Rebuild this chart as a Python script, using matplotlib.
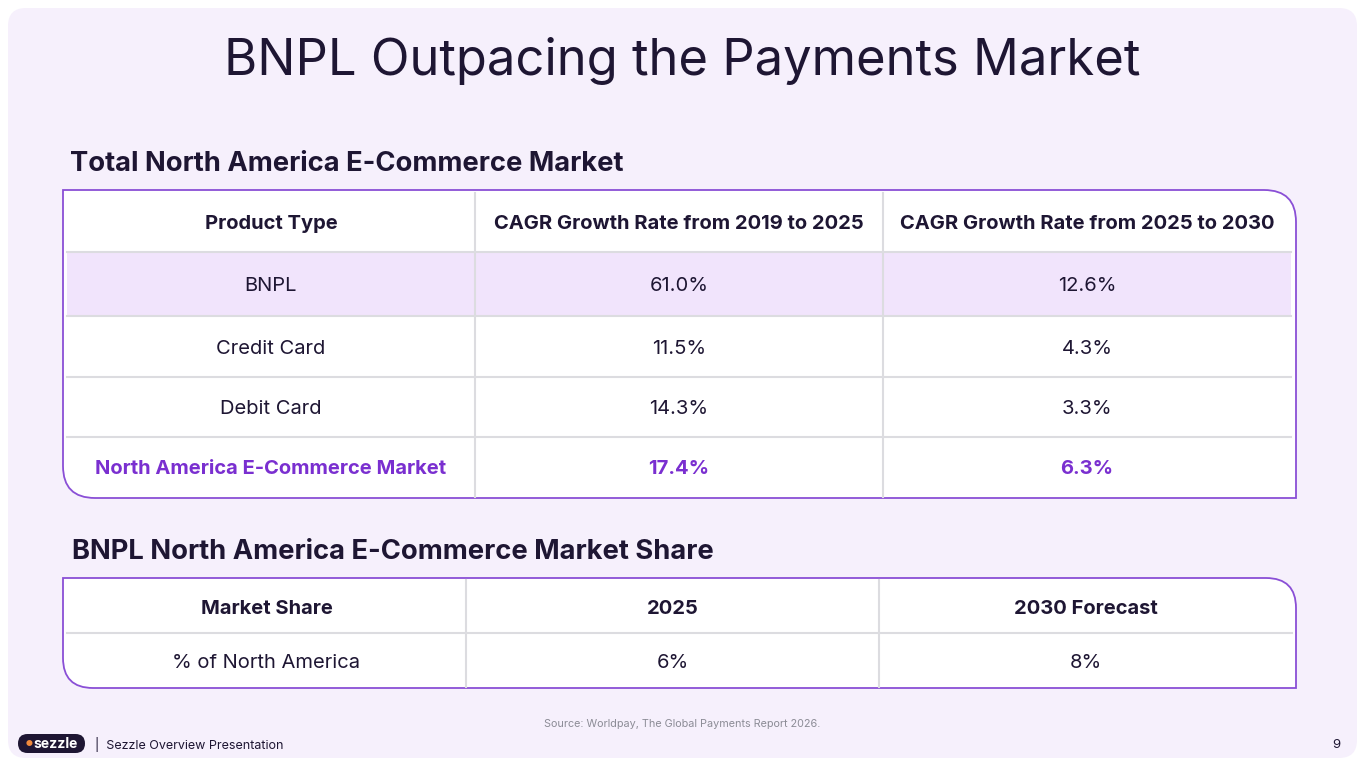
import matplotlib
matplotlib.use("Agg")
import matplotlib.pyplot as plt
from matplotlib.patches import FancyBboxPatch, PathPatch, Rectangle
from matplotlib.path import Path

plt.rcParams['font.family'] = ['Inter', 'DejaVu Sans']

title = "BNPL Outpacing the Payments Market"
sec1 = "Total North America E-Commerce Market"
headers1 = ["Product Type", "CAGR Growth Rate from 2019 to 2025", "CAGR Growth Rate from 2025 to 2030"]
products = ["BNPL", "Credit Card", "Debit Card", "North America E-Commerce Market"]
cagr_19_25 = ["61.0%", "11.5%", "14.3%", "17.4%"]
cagr_25_30 = ["12.6%", "4.3%", "3.3%", "6.3%"]
sec2 = "BNPL North America E-Commerce Market Share"
headers2 = ["Market Share", "2025", "2030 Forecast"]
share_row = ["% of North America", "6%", "8%"]

DARK = "#1E1633"
PURPLE = "#7A2FD0"
LINE = "#8A4FD6"
GRID = "#DCDCE0"

fig = plt.figure(figsize=(13.65, 7.68), dpi=100)
ax = fig.add_axes([0, 0, 1, 1])
ax.set_xlim(0, 1365); ax.set_ylim(768, 0); ax.axis('off')

ax.add_patch(FancyBboxPatch((8, 8), 1349, 750, boxstyle="round,pad=0,rounding_size=18",
                            fc="#F6F0FC", ec="none"))

def outline(x0, y0, x1, y1, r):
    verts = [(x0, y0), (x1 - r, y0), (x1, y0), (x1, y0 + r), (x1, y1), (x0 + r, y1),
             (x0, y1), (x0, y1 - r), (x0, y0)]
    codes = [Path.MOVETO, Path.LINETO, Path.CURVE3, Path.CURVE3, Path.LINETO, Path.LINETO,
             Path.CURVE3, Path.CURVE3, Path.CLOSEPOLY]
    ax.add_patch(PathPatch(Path(verts, codes), fc="white", ec=LINE, lw=1.3, zorder=1))

ax.text(682, 61, title, ha='center', va='center', fontsize=36.5, color=DARK)

# Table 1
ax.text(70, 164, sec1, ha='left', va='center', fontsize=19.7, fontweight='bold', color=DARK)
outline(63, 190, 1296, 498, 32)
cols1 = [67, 475, 883, 1291]
rows1 = [193, 252, 316, 377, 437, 497]
ax.add_patch(Rectangle((67, 252), 1224, 64, fc="#F1E4FC", ec="none", zorder=2))
for y in rows1[1:-1]:
    ax.plot([67, 1291], [y, y], color=GRID, lw=1.5, zorder=3)
for x in cols1[1:-1]:
    ax.plot([x, x], [rows1[0], rows1[-1]], color=GRID, lw=1.5, zorder=3)
for j, h in enumerate(headers1):
    ax.text((cols1[j] + cols1[j+1]) / 2, 224, h, ha='center', va='center', fontsize=14.5,
            fontweight='bold', color=DARK, zorder=4)
for i in range(len(products)):
    yc = (rows1[i+1] + rows1[i+2]) / 2 + 2
    last = i == len(products) - 1
    kw = dict(ha='center', va='center', fontsize=14.5, zorder=4,
              color=PURPLE if last else DARK, fontweight='bold' if last else 'normal')
    for j, v in enumerate([products[i], cagr_19_25[i], cagr_25_30[i]]):
        ax.text((cols1[j] + cols1[j+1]) / 2, yc, v, **kw)

# Table 2
ax.text(72, 552, sec2, ha='left', va='center', fontsize=19.7, fontweight='bold', color=DARK)
outline(63, 578, 1296, 688, 30)
cols2 = [67, 466, 879, 1292]
ax.plot([67, 1292], [633, 633], color=GRID, lw=1.5, zorder=3)
for x in cols2[1:-1]:
    ax.plot([x, x], [580, 687], color=GRID, lw=1.5, zorder=3)
for j in range(3):
    xc = (cols2[j] + cols2[j+1]) / 2
    ax.text(xc, 609, headers2[j], ha='center', va='center', fontsize=14.5, fontweight='bold', color=DARK)
    ax.text(xc, 663, share_row[j], ha='center', va='center', fontsize=14.5, color=DARK)

# Footer
ax.text(682, 724, "Source: Worldpay, The Global Payments Report 2026.", ha='center', va='center',
        fontsize=7.8, color="#8C8C96")
ax.add_patch(FancyBboxPatch((18, 734), 67, 19, boxstyle="round,pad=0,rounding_size=9.5",
                            fc=DARK, ec="none"))
ax.text(29, 744, "\u2022", ha='center', va='center', fontsize=14, color="#F08A3C")
ax.text(56, 744, "sezzle", ha='center', va='center', fontsize=10, fontweight='bold', color="white")
ax.text(95, 745, "|  Sezzle Overview Presentation", ha='left', va='center', fontsize=9, color=DARK)
ax.text(1340, 745, "9", ha='right', va='center', fontsize=9.5, color=DARK)

fig.savefig("out.png", dpi=100)
